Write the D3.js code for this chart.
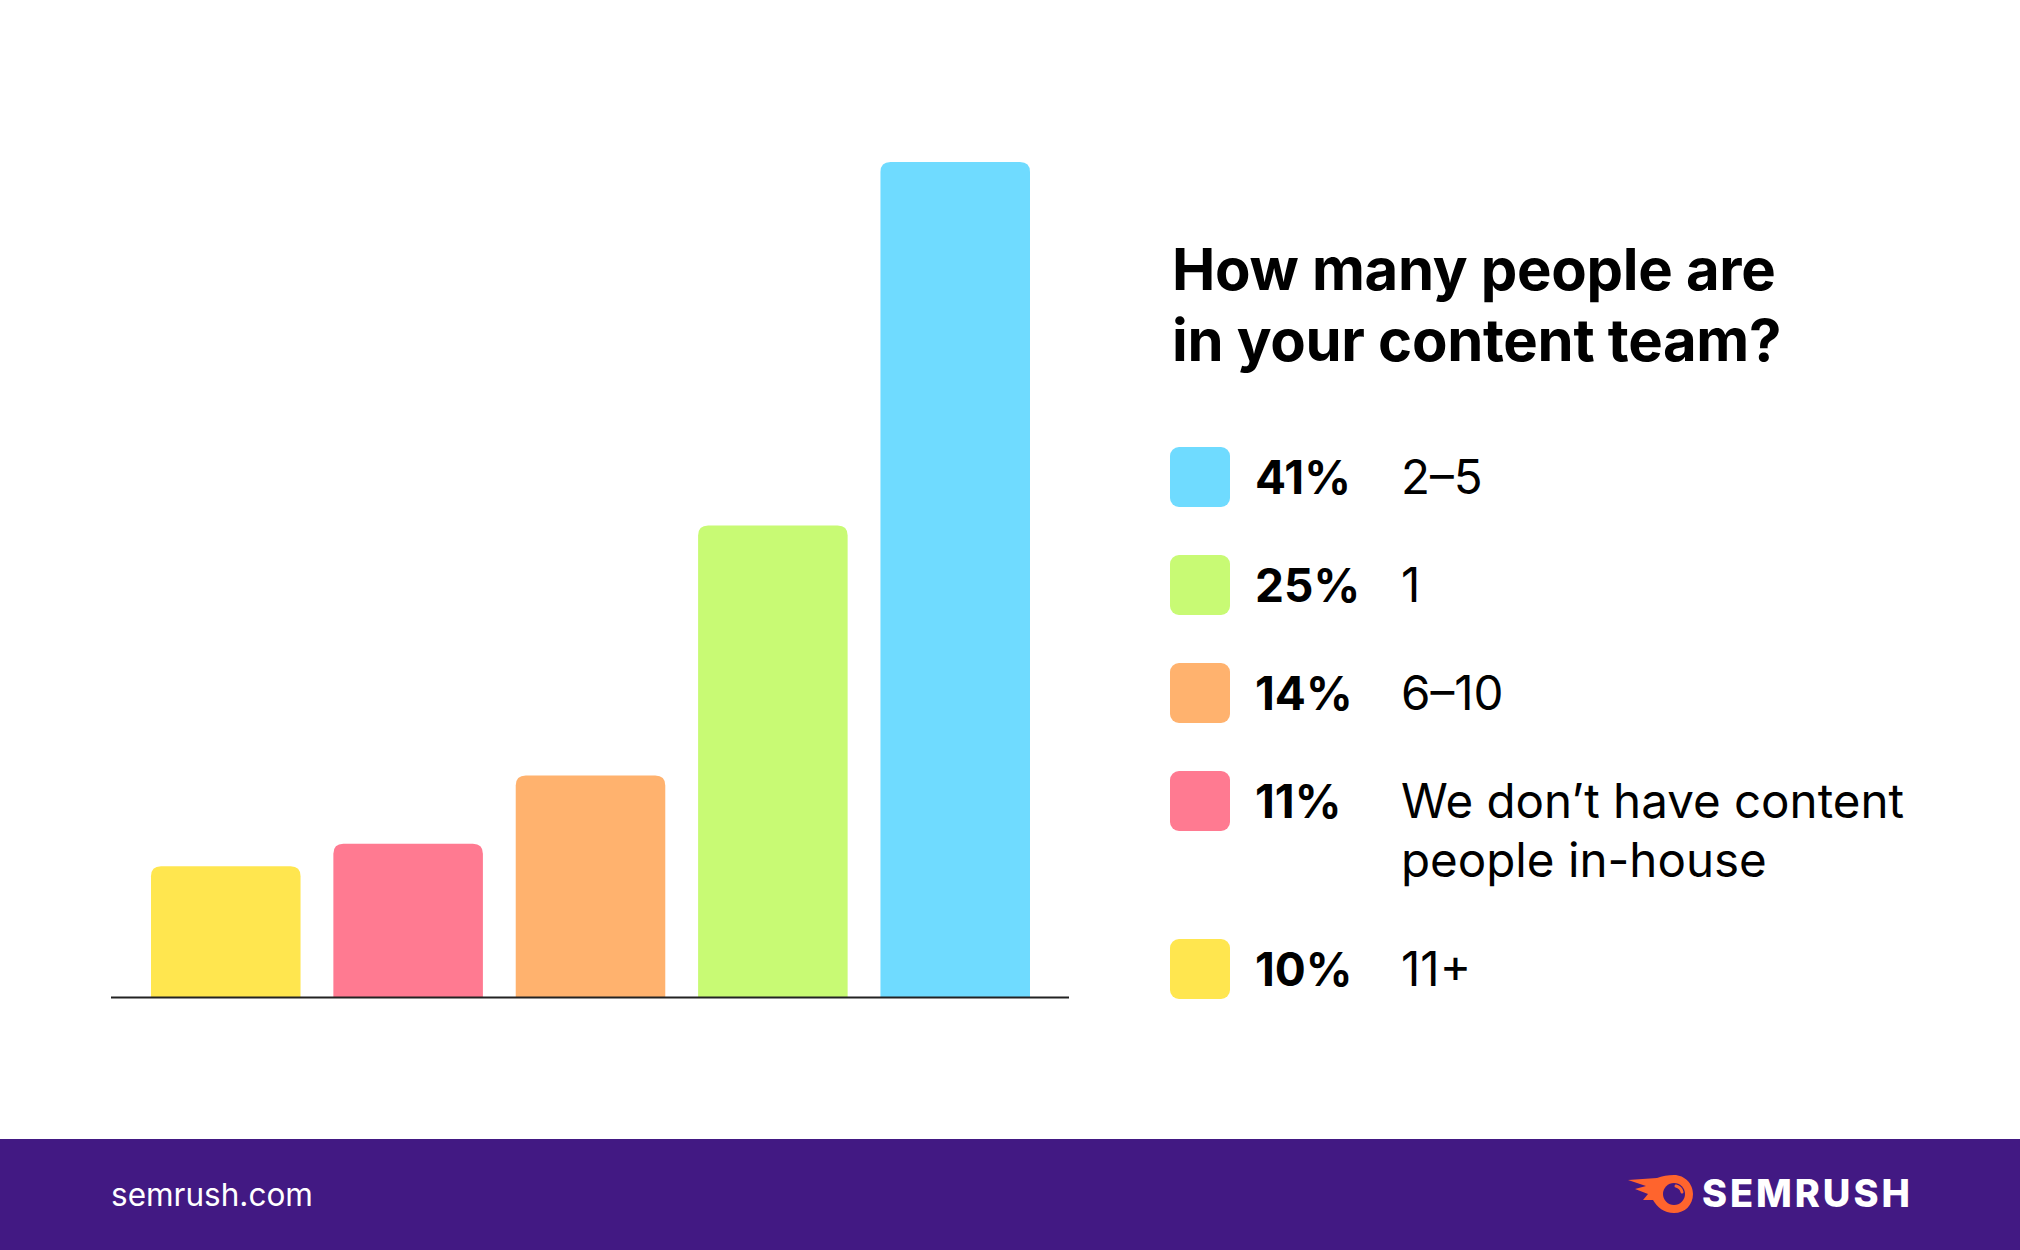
<!DOCTYPE html>
<html>
<head>
<meta charset="utf-8">
<script src="https://cdn.jsdelivr.net/npm/d3@7"></script>
<style>
  html, body { margin: 0; padding: 0; background: #ffffff; }
  svg { display: block; }
</style>
</head>
<body>
<svg id="chart" width="2020" height="1250"></svg>
<script>
// ---- data ----
const categories = ["11+", "We don\u2019t have content people in-house", "6\u201310", "1", "2\u20135"];
const values = [10, 11, 14, 25, 41];
const colors = ["#ffe64f", "#ff7a91", "#ffb26e", "#c8fa74", "#6fdbff"];
const legendLines = [["11+"], ["We don\u2019t have content", "people in-house"], ["6\u201310"], ["1"], ["2\u20135"]];
const titleLines = ["How many people are", "in your content team?"];
const footerText = "semrush.com";
const brandText = "SEMRUSH";

const W = 2020, H = 1250;
const svg = d3.select("#chart");
svg.append("rect").attr("width", W).attr("height", H).attr("fill", "#ffffff");

const data = categories.map((c, i) => ({ cat: c, value: values[i], color: colors[i], lines: legendLines[i] }));

// ---- scales ----
const baseY = 997;
const x = d3.scaleBand().domain(categories).range([151, 1030]).paddingInner(0.18).paddingOuter(0);
const y = d3.scaleLinear().domain([4.25, 41]).range([baseY, 162]);

function topRounded(x0, y0, w, h, r) {
  r = Math.min(r, w / 2, h);
  return `M${x0},${y0 + h}V${y0 + r}Q${x0},${y0} ${x0 + r},${y0}H${x0 + w - r}Q${x0 + w},${y0} ${x0 + w},${y0 + r}V${y0 + h}Z`;
}

svg.append("g").selectAll("path").data(data).join("path")
  .attr("d", d => topRounded(x(d.cat), y(d.value), x.bandwidth(), baseY - y(d.value), 10))
  .attr("fill", d => d.color);

// baseline axis
svg.append("line").attr("x1", 111).attr("x2", 1069).attr("y1", baseY + 0.5).attr("y2", baseY + 0.5)
  .attr("stroke", "#222222").attr("stroke-width", 2);

// ---- title ----
const title = svg.append("text").attr("x", 1172).attr("y", 290)
  .attr("font-family", "Inter, 'Noto Sans', sans-serif").attr("font-weight", 700)
  .attr("font-size", 58).attr("fill", "#000000").attr("letter-spacing", -0.3);
titleLines.forEach((t, i) => title.append("tspan").attr("x", 1172).attr("dy", i === 0 ? 0 : 71).text(t));

// ---- legend ----
const legendData = data.slice().sort((a, b) => b.value - a.value);
const rowCenters = [477, 585, 693, 801, 969];
const lg = svg.append("g");
legendData.forEach((d, i) => {
  const cy = rowCenters[i];
  lg.append("rect").attr("x", 1170).attr("y", cy - 30).attr("width", 60).attr("height", 60)
    .attr("rx", 9).attr("fill", d.color);
  lg.append("text").attr("x", 1255).attr("y", cy + 17)
    .attr("font-family", "Inter, 'Noto Sans', sans-serif").attr("font-weight", 700)
    .attr("font-size", 46).attr("fill", "#000000").text(d.value + "%");
  const t = lg.append("text").attr("x", 1401).attr("y", cy + 17)
    .attr("font-family", "Inter, 'Noto Sans', sans-serif").attr("font-weight", 400)
    .attr("font-size", 47.5).attr("fill", "#000000");
  d.lines.forEach((l, j) => t.append("tspan").attr("x", 1401).attr("dy", j === 0 ? 0 : 59).text(l));
});

// ---- footer ----
svg.append("rect").attr("x", 0).attr("y", 1139).attr("width", W).attr("height", H - 1139).attr("fill", "#421983");
svg.append("text").attr("x", 111).attr("y", 1206)
  .attr("font-family", "Inter, 'Noto Sans', sans-serif").attr("font-size", 31.5)
  .attr("fill", "#ffffff").text(footerText);

// logo
const logo = svg.append("g");
logo.append("path")
  .attr("d", "M1628,1180 L1657,1178 C1662,1176 1668,1175 1674,1175 C1685,1175 1693,1184 1693,1194 C1693,1205 1685,1213 1674,1213 C1664,1213 1657,1207 1653,1200 L1643,1200 L1648,1194 L1635,1189 L1646,1186 Z")
  .attr("fill", "#ff642d");
logo.append("circle").attr("cx", 1674).attr("cy", 1194).attr("r", 11).attr("fill", "#421983");
logo.append("path").attr("d", "M1676,1186 A8,8 0 0 1 1682,1192").attr("stroke", "#ff642d")
  .attr("stroke-width", 3).attr("fill", "none").attr("stroke-linecap", "round");
logo.append("text").attr("x", 1702).attr("y", 1207)
  .attr("font-family", "Inter, 'Noto Sans', sans-serif").attr("font-weight", 800)
  .attr("font-size", 38).attr("letter-spacing", 2.9).attr("fill", "#ffffff").text(brandText);
</script>
</body>
</html>
